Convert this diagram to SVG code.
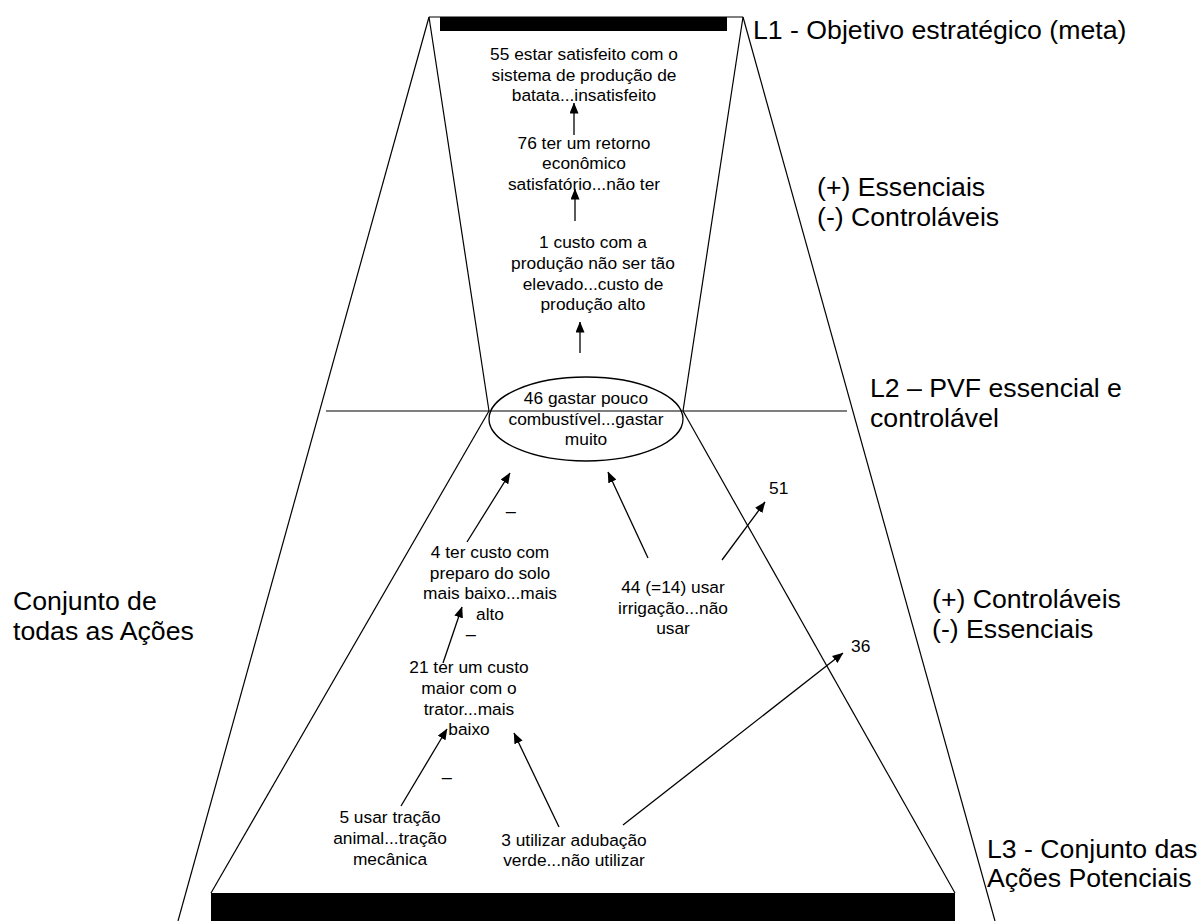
<svg xmlns="http://www.w3.org/2000/svg" width="1198" height="921" viewBox="0 0 1198 921">
  <style>
    .frame { fill: none; stroke: #000; stroke-width: 1.2; }
    .bar { fill: #000; stroke: none; }
    .node { font-family: "Liberation Sans", Arial, sans-serif; font-size: 17.33px; fill: #000; text-anchor: middle; }
    .ref { font-family: "Liberation Sans", Arial, sans-serif; font-size: 17.33px; fill: #000; }
    .label { font-family: "Liberation Sans", Arial, sans-serif; font-size: 26.67px; fill: #000; }
    .edge { fill: none; stroke: #000; stroke-width: 1.3; marker-end: url(#arrow); }
    .oval { fill: none; stroke: #000; stroke-width: 1.3; }
  </style>
  <defs>
    <marker id="arrow" markerUnits="userSpaceOnUse" markerWidth="11" markerHeight="9" refX="10.5" refY="4.5" orient="auto">
      <path d="M0,0 L11,4.5 L0,9 z" fill="#000"/>
    </marker>
  </defs>

  <rect width="1198" height="921" fill="#fff"/>

  <!-- level frame: outer trapezoid, inner funnel and L2 cut -->
  <g id="frame">
    <line class="frame" x1="429" y1="17" x2="743" y2="17"/>
    <rect class="bar" x="440" y="17" width="287" height="14"/>
    <line class="frame" x1="429" y1="17" x2="178" y2="921"/>
    <line class="frame" x1="743" y1="17" x2="995" y2="921"/>
    <line class="frame" x1="429" y1="17" x2="489" y2="411"/>
    <line class="frame" x1="743" y1="17" x2="683" y2="411"/>
    <line class="frame" x1="326" y1="411" x2="847" y2="411"/>
    <line class="frame" x1="489" y1="411" x2="211" y2="893"/>
    <line class="frame" x1="683" y1="411" x2="955" y2="893"/>
    <rect class="bar" x="211" y="893" width="744" height="28"/>
  </g>

  <!-- level labels -->
  <g id="labels" class="label">
    <text x="753" y="39">L1 - Objetivo estratégico (meta)</text>
    <text x="817" y="196">(+) Essenciais</text>
    <text x="817" y="226">(-) Controláveis</text>
    <text x="870" y="397">L2 – PVF essencial e</text>
    <text x="870" y="427">controlável</text>
    <text x="932" y="608">(+) Controláveis</text>
    <text x="932" y="638">(-) Essenciais</text>
    <text x="987" y="858">L3 - Conjunto das</text>
    <text x="987" y="887">Ações Potenciais</text>
    <text x="13" y="610">Conjunto de</text>
    <text x="13" y="640">todas as Ações</text>
  </g>

  <!-- concept nodes -->
  <g id="n55" class="node">
    <text x="584" y="60">55 estar satisfeito com o</text>
    <text x="584" y="81">sistema de produção de</text>
    <text x="584" y="101">batata...insatisfeito</text>
  </g>
  <g id="n76" class="node">
    <text x="584" y="149">76 ter um retorno</text>
    <text x="584" y="169">econômico</text>
    <text x="584" y="190">satisfatório...não ter</text>
  </g>
  <g id="n1" class="node">
    <text x="593" y="248">1 custo com a</text>
    <text x="593" y="269">produção não ser tão</text>
    <text x="593" y="290">elevado...custo de</text>
    <text x="593" y="310">produção alto</text>
  </g>
  <g id="n46">
    <ellipse class="oval" cx="586" cy="419" rx="97" ry="42"/>
    <text class="node" x="586" y="404">46 gastar pouco</text>
    <text class="node" x="586" y="425">combustível...gastar</text>
    <text class="node" x="586" y="445">muito</text>
  </g>
  <g id="n4" class="node">
    <text x="490" y="558">4 ter custo com</text>
    <text x="490" y="579">preparo do solo</text>
    <text x="490" y="599">mais baixo...mais</text>
    <text x="490" y="620">alto</text>
  </g>
  <g id="n44" class="node">
    <text x="673" y="593">44 (=14) usar</text>
    <text x="673" y="614">irrigação...não</text>
    <text x="673" y="634">usar</text>
  </g>
  <g id="n51" class="ref">
    <text x="769" y="494">51</text>
  </g>
  <g id="n36" class="ref">
    <text x="851" y="652">36</text>
  </g>
  <g id="n21" class="node">
    <text x="469" y="673">21 ter um custo</text>
    <text x="469" y="694">maior com o</text>
    <text x="469" y="715">trator...mais</text>
    <text x="469" y="735">baixo</text>
  </g>
  <g id="n5" class="node">
    <text x="390" y="823">5 usar tração</text>
    <text x="390" y="844">animal...tração</text>
    <text x="390" y="865">mecânica</text>
  </g>
  <g id="n3" class="node">
    <text x="574" y="846">3 utilizar adubação</text>
    <text x="574" y="866">verde...não utilizar</text>
  </g>

  <!-- negative-link marks -->
  <g id="signs" class="ref">
    <text x="506" y="510">_</text>
    <text x="466" y="633">_</text>
    <text x="442" y="776">_</text>
  </g>

  <!-- means-ends links -->
  <g id="connectors">
    <line class="edge" x1="574" y1="135" x2="574" y2="103"/>
    <line class="edge" x1="575" y1="221" x2="575" y2="189"/>
    <line class="edge" x1="580" y1="353" x2="580" y2="322"/>
    <line class="edge" x1="467" y1="542" x2="510" y2="473"/>
    <line class="edge" x1="648" y1="558" x2="608" y2="472"/>
    <line class="edge" x1="722" y1="560" x2="765" y2="502"/>
    <line class="edge" x1="443" y1="663" x2="462" y2="607"/>
    <line class="edge" x1="401" y1="806" x2="447" y2="729"/>
    <line class="edge" x1="559" y1="827" x2="514" y2="733"/>
    <line class="edge" x1="623" y1="825" x2="843" y2="653"/>
  </g>
</svg>
